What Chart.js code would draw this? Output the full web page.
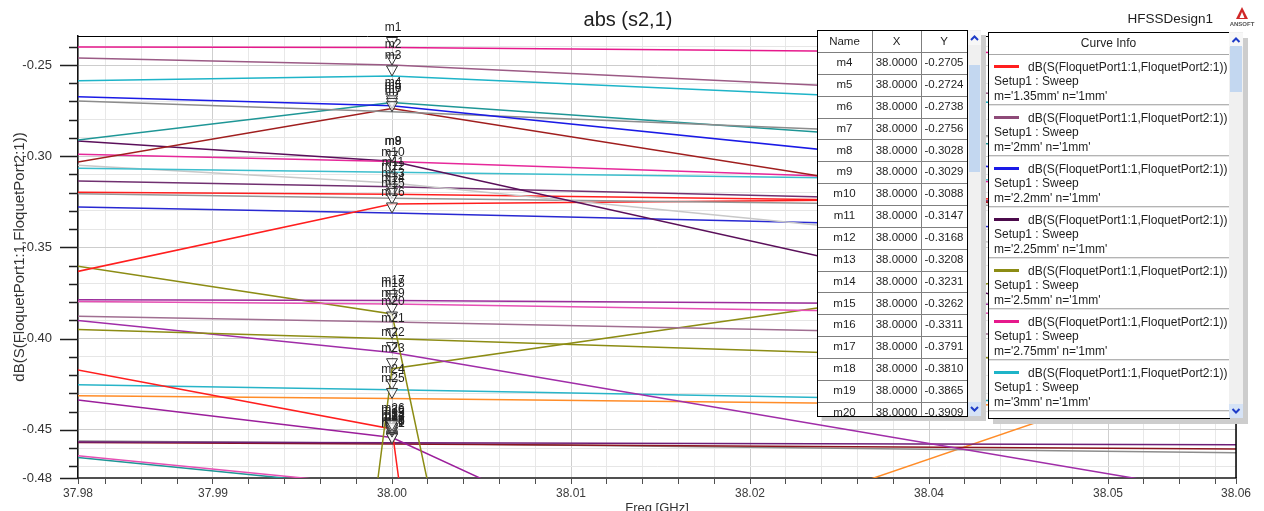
<!DOCTYPE html>
<html>
<head>
<meta charset="utf-8">
<title>abs (s2,1)</title>
<script src="https://cdn.jsdelivr.net/npm/chart.js@4.4.1/dist/chart.umd.min.js"></script>
<style>
  html, body { margin: 0; padding: 0; background: #fff; }
  canvas { display: block; }
</style>
</head>
<body>
<canvas id="plot" width="1264" height="511"></canvas>
<script>
// axis limits as shown by HFSS (labels are rounded to 2 decimals)
const X_MIN = 37.97895, X_MAX = 38.05658;
const Y_MIN = -0.4764, Y_MAX = -0.2341;

// Curve Info entries visible in the legend box
const legendLabels = ["m='1.35mm' n='1mm'", "m='2mm' n='1mm'", "m='2.2mm' n='1mm'", "m='2.25mm' n='1mm'",
  "m='2.5mm' n='1mm'", "m='2.75mm' n='1mm'", "m='3mm' n='1mm'"];
const legendColors = ['#FF1E1E', '#8E4A78', '#1A1AE6', '#4B0A4B', '#8C8C14', '#E6198C', '#1EB4C8'];
const curveExpr = 'dB(S(FloquetPort1:1,FloquetPort2:1))';
const setupName = 'Setup1 : Sweep';

// swept curves: frequency samples (GHz) and dB values
const F3 = [37.978, 38.0, 38.06];
const curveFreqs = [
  F3, F3, F3, F3, F3, F3, F3, F3, F3, F3, F3, F3, F3, F3, F3, F3, F3, F3,
  [37.978, 38.0, 38.003], F3, F3, F3, [37.998, 38.0, 38.06], [37.978, 38.0, 38.001],
  F3, F3, [37.978, 38.0, 38.01], F3, F3, F3, [37.978, 38.0, 38.01], [37.978, 38.0, 38.01], [38.03, 38.06]
];
const curveDb = [
  [-0.2401, -0.2404, -0.2445],
  [-0.2460, -0.2500, -0.2732],
  [-0.2587, -0.2560, -0.2777],
  [-0.2672, -0.2724, -0.3224],
  [-0.2695, -0.2756, -0.2955],
  [-0.2921, -0.2705, -0.3046],
  [-0.3045, -0.2738, -0.3513],
  [-0.2987, -0.3029, -0.3195],
  [-0.2911, -0.3028, -0.4118],
  [-0.3065, -0.3088, -0.3151],
  [-0.3045, -0.3147, -0.3632],
  [-0.3134, -0.3168, -0.3284],
  [-0.3197, -0.3208, -0.3270],
  [-0.3204, -0.3231, -0.3288],
  [-0.3648, -0.3262, -0.3220],
  [-0.3277, -0.3311, -0.3423],
  [-0.3787, -0.3791, -0.3822],
  [-0.3796, -0.3810, -0.3886],
  [-0.3592, -0.3865, -0.5020],
  [-0.3876, -0.3909, -0.4008],
  [-0.3948, -0.4000, -0.4157],
  [-0.3893, -0.4076, -0.4907],
  [-0.5442, -0.4165, -0.3464],
  [-0.4157, -0.4495, -0.5104],
  [-0.4252, -0.4280, -0.4369],
  [-0.4313, -0.4328, -0.4381],
  [-0.4327, -0.4542, -0.4919],
  [-0.4566, -0.4571, -0.4582],
  [-0.4569, -0.4577, -0.4607],
  [-0.4560, -0.4574, -0.4629],
  [-0.4635, -0.4812, -0.4890],
  [-0.4644, -0.4823, -0.4900],
  [-0.4828, -0.3990]
];
const curveColors = [
  '#E6198C', '#9B5A85', '#1EB4C8', '#1A1AE6', '#8C8C8C', '#1E9696', '#A01E1E', '#E6289A',
  '#5A0F5A', '#3CBECD', '#C8C8C8', '#703070', '#FF1E1E', '#969696', '#FF1E1E', '#2828D2',
  '#9B2D9B', '#E650B4', '#8C8C14', '#A06E91', '#8C8C14', '#A02DA8', '#8C8C14', '#FF1E1E',
  '#28B4C8', '#FF8C28', '#9B1E9B', '#6E1E78', '#8C141E', '#8C8C8C', '#E650B4', '#1E9696', '#FF8C28'
];

// markers, all at 38.0000 GHz
const markerFreq = 38.0;
const markerDb = [
  -0.2404, -0.2500, -0.2560, -0.2705, -0.2724, -0.2738, -0.2756, -0.3028, -0.3029, -0.3088,
  -0.3147, -0.3168, -0.3208, -0.3231, -0.3262, -0.3311, -0.3791, -0.3810, -0.3865, -0.3909,
  -0.4000, -0.4076, -0.4165, -0.4280, -0.4328, -0.4495, -0.4542, -0.4560, -0.4566, -0.4571,
  -0.4574, -0.4577, -0.4540, -0.4530, -0.4520, -0.4505
];
const markerNames = markerDb.map((v, i) => 'm' + (i + 1));
const tableFirst = 3, tableLast = 19; // rows m4 .. m20 shown in the table

const FONT = "'Liberation Sans', Arial, sans-serif";
Chart.defaults.font.family = FONT;

function buildXTicks(scale) {
  const t = [{ value: X_MIN, lab: X_MIN.toFixed(2), big: true }];
  for (let k = -8; k <= 23; k++) {
    const v = Math.round((38 + k * 0.0024) * 1e6) / 1e6;
    t.push({ value: v, lab: k % 5 === 0 ? v.toFixed(2) : '', big: k % 5 === 0 });
  }
  t.push({ value: X_MAX, lab: X_MAX.toFixed(2), big: true });
  scale.ticks = t;
}

function buildYTicks(scale) {
  const t = [{ value: Y_MIN, lab: Y_MIN.toFixed(2), big: true }];
  for (let k = -47; k <= -24; k++) {
    const v = k / 100;
    t.push({ value: v, lab: k % 5 === 0 ? v.toFixed(2) : '', big: k % 5 === 0 });
  }
  scale.ticks = t;
}

function chevron(c, x, y, up) {
  c.beginPath();
  c.moveTo(x - 3.5, y + (up ? 2 : -2));
  c.lineTo(x, y + (up ? -1.5 : 1.5));
  c.lineTo(x + 3.5, y + (up ? 2 : -2));
  c.strokeStyle = '#1E3CC8';
  c.lineWidth = 2;
  c.stroke();
}

function scrollbar(c, x, top, bottom, w, thumbTop, thumbH) {
  c.fillStyle = '#F0F0F0';
  c.fillRect(x, top, w, bottom - top);
  c.fillStyle = '#F7F7F7';
  c.fillRect(x, top + 1, w, 14);
  c.fillStyle = '#C3D7F0';
  c.fillRect(x + 1, thumbTop, w - 2, thumbH);
  c.fillStyle = '#D6E3F6';
  c.fillRect(x, bottom - 14, w, 14);
  chevron(c, x + w / 2, top + 8, true);
  chevron(c, x + w / 2, bottom - 7, false);
}

function drawMarkerTable(c) {
  const L = 817, T = 30, R = 967, B = 416, c1 = 872, c2 = 921, head = 22, rowH = 21.85;
  c.fillStyle = '#CDCDCD';
  c.fillRect(L + 5, T + 5, 981 - L, B - T);
  c.fillStyle = '#fff';
  c.fillRect(L, T, R - L, B - T);
  c.save();
  c.beginPath(); c.rect(L, T, R - L, B - T); c.clip();
  c.font = '11.5px ' + FONT;
  c.textAlign = 'center';
  c.textBaseline = 'middle';
  c.fillStyle = '#1E1E1E';
  c.fillText('Name', (L + c1) / 2, T + 11.5);
  c.fillText('X', (c1 + c2) / 2, T + 11.5);
  c.fillText('Y', (c2 + R) / 2, T + 11.5);
  c.strokeStyle = '#7F7F7F';
  c.lineWidth = 1;
  for (let i = tableFirst; i <= tableLast; i++) {
    const top = T + head + (i - tableFirst) * rowH;
    c.beginPath(); c.moveTo(L, Math.round(top) + 0.5); c.lineTo(R, Math.round(top) + 0.5); c.stroke();
    c.fillText(markerNames[i], (L + c1) / 2, top + 11);
    c.fillText(markerFreq.toFixed(4), (c1 + c2) / 2, top + 11);
    c.fillText(markerDb[i].toFixed(4), (c2 + R) / 2, top + 11);
  }
  c.beginPath();
  c.moveTo(c1 + 0.5, T); c.lineTo(c1 + 0.5, B);
  c.moveTo(c2 + 0.5, T); c.lineTo(c2 + 0.5, B);
  c.stroke();
  c.restore();
  c.strokeStyle = '#000';
  c.strokeRect(L + 0.5, T + 0.5, R - L, B - T);
  scrollbar(c, R + 1, T, B, 13, 65, 107);
}

function drawCurveInfo(c) {
  const L = 988, T = 32, R = 1229, B = 418, head = 22, entryH = 51;
  c.fillStyle = '#CDCDCD';
  c.fillRect(L + 5, T + 6, 1243 - L, B - T);
  c.fillStyle = '#fff';
  c.fillRect(L, T, R - L, B - T);
  c.save();
  c.beginPath(); c.rect(L, T, R - L, B - T); c.clip();
  c.font = '12px ' + FONT;
  c.textBaseline = 'middle';
  c.fillStyle = '#1E1E1E';
  c.textAlign = 'center';
  c.fillText('Curve Info', (L + R) / 2, T + 12);
  c.fillStyle = '#A8A8A8';
  c.fillRect(L, T + head, R - L, 1);
  legendLabels.forEach((lab, i) => {
    const top = T + head + 1 + i * entryH;
    c.strokeStyle = legendColors[i];
    c.lineWidth = 3;
    c.beginPath(); c.moveTo(L + 6, top + 11.5); c.lineTo(L + 31, top + 11.5); c.stroke();
    c.fillStyle = '#1E1E1E';
    c.textAlign = 'left';
    c.fillText(curveExpr, L + 40, top + 12.5);
    c.fillText(setupName, L + 6, top + 27);
    c.fillText(lab, L + 6, top + 42);
    c.fillStyle = '#B4B4B4';
    c.fillRect(L, top + entryH - 2, R - L, 1);
    c.fillStyle = '#E4E4E4';
    c.fillRect(L, top + entryH - 1, R - L, 1);
  });
  c.restore();
  c.strokeStyle = '#000';
  c.lineWidth = 1;
  c.strokeRect(L + 0.5, T + 0.5, R - L, B - T);
  scrollbar(c, R, T, B, 14, 46, 46);
}

const hfssPlugin = {
  id: 'hfss',
  afterDraw(chart) {
    const c = chart.ctx, xs = chart.scales.x, ys = chart.scales.y, a = chart.chartArea;
    c.save();

    // frame on top and right
    c.strokeStyle = '#000';
    c.lineWidth = 1;
    c.beginPath(); c.moveTo(a.left, a.top + 0.5); c.lineTo(a.right, a.top + 0.5); c.stroke();
    c.lineWidth = 1.5;
    c.beginPath(); c.moveTo(a.right, a.top); c.lineTo(a.right, a.bottom); c.stroke();

    // y tick marks, long at labelled values
    c.strokeStyle = '#1E1E1E';
    c.lineWidth = 1.5;
    ys.ticks.forEach(t => {
      const py = Math.round(ys.getPixelForValue(t.value)) + 0.5;
      const len = t.big ? 18 : 9;
      c.beginPath(); c.moveTo(a.left - len, py); c.lineTo(a.left, py); c.stroke();
    });

    // markers
    c.font = '12px ' + FONT;
    c.textAlign = 'center';
    c.textBaseline = 'middle';
    c.lineWidth = 1;
    markerDb.forEach((v, i) => {
      const px = xs.getPixelForValue(markerFreq);
      const py = ys.getPixelForValue(v);
      c.beginPath();
      c.moveTo(px - 5.5, py - 10); c.lineTo(px + 5.5, py - 10); c.lineTo(px, py); c.closePath();
      c.fillStyle = 'rgba(255,255,255,0.7)';
      c.fill();
      c.strokeStyle = '#333';
      c.stroke();
      c.fillStyle = '#222';
      c.fillText(markerNames[i], px + 1, py - 20);
    });

    // titles
    c.fillStyle = '#1E1E1E';
    c.font = '20px ' + FONT;
    c.textBaseline = 'alphabetic';
    c.textAlign = 'center';
    c.fillText('abs (s2,1)', 628, 26);
    c.font = '13.5px ' + FONT;
    c.textAlign = 'right';
    c.fillText('HFSSDesign1', 1213, 23);
    c.font = '13px ' + FONT;
    c.textAlign = 'center';
    c.fillStyle = '#333';
    c.fillText('Freq [GHz]', (a.left + a.right) / 2, 512);
    c.save();
    c.translate(24, (a.top + a.bottom) / 2);
    c.rotate(-Math.PI / 2);
    c.font = '15px ' + FONT;
    c.fillText(curveExpr, 0, 0);
    c.restore();

    // Ansoft logo
    c.fillStyle = '#D02828';
    c.beginPath(); c.moveTo(1242, 7); c.lineTo(1248, 19); c.lineTo(1236, 19); c.closePath(); c.fill();
    c.fillStyle = '#fff';
    c.beginPath(); c.moveTo(1242, 12); c.lineTo(1244.5, 18); c.lineTo(1239.5, 18); c.closePath(); c.fill();
    c.fillStyle = '#555';
    c.font = 'bold 6px ' + FONT;
    c.textAlign = 'center';
    c.fillText('ANSOFT', 1242, 26);

    drawMarkerTable(c);
    drawCurveInfo(c);
    c.restore();
  }
};

new Chart(document.getElementById('plot'), {
  type: 'line',
  data: {
    datasets: curveDb.map((vals, i) => ({
      label: 'curve ' + (i + 1),
      data: vals.map((v, j) => ({ x: curveFreqs[i][j], y: v })),
      borderColor: curveColors[i],
      borderWidth: 1.5,
      pointRadius: 0,
      tension: 0,
      fill: false
    }))
  },
  options: {
    responsive: false,
    animation: false,
    devicePixelRatio: 1,
    layout: { padding: { top: 36, right: 28, left: 0, bottom: 0 } },
    plugins: { legend: { display: false }, tooltip: { enabled: false }, title: { display: false } },
    scales: {
      x: {
        type: 'linear',
        min: X_MIN,
        max: X_MAX,
        afterBuildTicks: buildXTicks,
        afterFit: s => { s.height = 33; },
        ticks: {
          autoSkip: false, maxRotation: 0, minRotation: 0, padding: 2,
          color: '#3A3A3A', font: { size: 12 },
          callback: (v, i, t) => t[i].lab
        },
        grid: {
          color: c => (c.tick && c.tick.big) ? '#CFCFCF' : '#E8E8E8',
          tickLength: 6, tickColor: '#505050'
        },
        border: { color: '#505050', width: 2 }
      },
      y: {
        type: 'linear',
        min: Y_MIN,
        max: Y_MAX,
        afterBuildTicks: buildYTicks,
        afterFit: s => { s.width = 78; },
        ticks: {
          autoSkip: false, padding: 8, color: '#333', font: { size: 13 },
          callback: (v, i, t) => t[i].lab
        },
        grid: {
          color: c => (c.tick && c.tick.big) ? '#CDCDCD' : '#E6E6E6',
          tickLength: 18, tickColor: 'rgba(0,0,0,0)'
        },
        border: { color: '#111', width: 1.5 }
      }
    }
  },
  plugins: [hfssPlugin]
});
</script>
</body>
</html>
